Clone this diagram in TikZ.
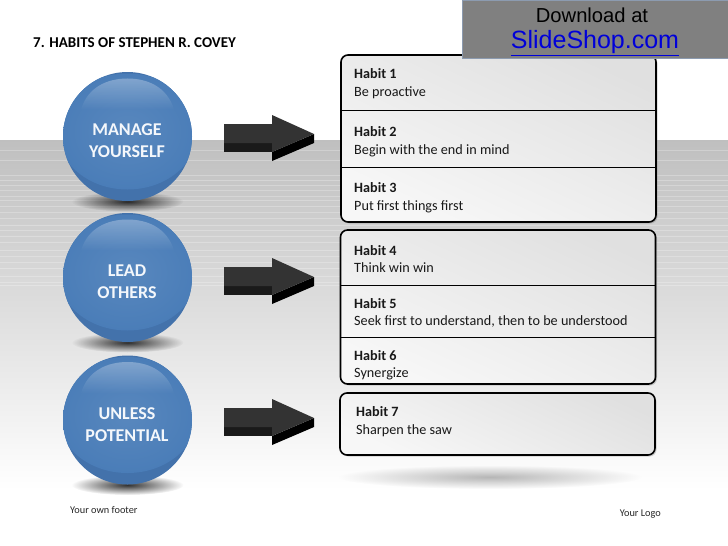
\documentclass[tikz,border=0pt]{standalone}
\usepackage{fontspec}
\setmainfont{Carlito}
\newfontfamily\bannerfont{Liberation Sans}
\usetikzlibrary{calc,positioning,shadows,fadings}
\definecolor{ballblue}{HTML}{4A7DB8}
\definecolor{ballrim}{HTML}{4372AB}
\definecolor{arrowfront}{HTML}{333333}
\definecolor{arrowside}{HTML}{1A1A1A}
\definecolor{bannergray}{HTML}{808080}
\definecolor{bannerline}{HTML}{8C9BB0}
\tikzfading[name=softshadow, inner color=transparent!0, outer color=transparent!100]
\tikzset{
    ball/.style={circle, minimum size=129pt, inner sep=0pt, outer sep=0pt, fill=ballrim},
    balltext/.style={inner sep=0pt, text=white!94!ballblue, align=center, font=\fontsize{18}{22}\selectfont\bfseries},
    softfall/.style={black, path fading=softshadow},
    habitbox/.style={draw=black, line width=1.6pt, rounded corners=7pt, minimum width=315pt, anchor=north west,
        inner sep=0pt, outer sep=0pt, top color=black!12, bottom color=black!3, shading angle=-25,
        drop shadow={shadow xshift=1.5pt, shadow yshift=-1.5pt, opacity=0.35}},
    habittext/.style={anchor=west, align=left, inner sep=0pt, text=black!90, font=\fontsize{14.2}{17.5}\selectfont},
    smalltext/.style={inner sep=0pt, text=black!85, font=\fontsize{10.3}{12}\selectfont}
}
\begin{document}
\begin{tikzpicture}[x=1pt,y=-1pt]
    \useasboundingbox (0,0) rectangle (728,546);
    % Grey floor that fades out to white
    \shade[top color=black!25, bottom color=white] (0,140) rectangle (728,490);
    \foreach \y in {150,160,175,180,185,190,196,200,206,212,218,225,230,236,242,250,256,262,268,276,282,285} {
        \draw[white, opacity=0.25, line width=0.7pt] (0,\y) -- (728,\y);
    }
    % Title
    \node[anchor=west, inner sep=0pt, font=\fontsize{15}{17}\selectfont\bfseries] (title) at (33,43) {7. HABITS OF STEPHEN R. COVEY};

    % Balls with their shadows and the arrows next to them
    \foreach \y/\a/\n/\txt in {136.5/0/1/{MANAGE\\YOURSELF},277.5/143/2/{LEAD\\OTHERS},420/284/3/{UNLESS\\POTENTIAL}} {
        \fill[softfall, opacity=0.8] (127.5,\y+65) ellipse (56pt and 10pt);
        \node[ball] (ball\n) at (127.5,\y) {};
        \begin{scope}
            \clip (127.5,\y) circle (64.5pt);
            \shade[inner color=ballblue!92!white, outer color=ballblue] (127.5,\y-5) ellipse (70pt and 58pt);
        \end{scope}
        \fill[white, opacity=0.3, path fading=south] (81,\y-27)
            .. controls (88,\y-50) and (108,\y-58) .. (127.5,\y-58)
            .. controls (147,\y-58) and (167,\y-50) .. (174,\y-27) -- cycle;
        \node[balltext] (label\n) at (127,\y+4.5) {\txt};
        % Arrow
        \begin{scope}[shift={(0,\a)}]
            \fill[arrowside] (224,143) rectangle (272,152);
            \fill[black] (314,134) -- (314,143) -- (272,161) -- (272,152) -- cycle;
            \fill[arrowfront] (224,124) -- (272,124) -- (272,115) -- (314,134) -- (272,152) -- (272,143) -- (224,143) -- cycle;
        \end{scope}
    }

    % Boxes and their dividing lines
    \node[habitbox, minimum height=167pt] (box1) at (341,55) {};
    \node[habitbox, minimum height=154pt] (box2) at (340.5,230) {};
    \node[habitbox, minimum height=62pt] (box3) at (340,393) {};
    \foreach \y in {110,167,285,337} {
        \draw[line width=0.8pt] (340,\y) -- (656,\y);
    }
    % Text of the habits
    \foreach \y/\n/\txt in {
        83.5/1/Be proactive,
        141.5/2/Begin with the end in mind,
        197.5/3/Put first things first,
        259/4/Think win win,
        313/5/{Seek first to understand, then to be understood},
        365/6/Synergize} {
        \node[habittext] (habit\n) at (354,\y) {\textbf{Habit \n}\\\txt};
    }
    \node[habittext] (habit7) at (356,421.5) {\textbf{Habit 7}\\Sharpen the saw};

    % Shadow under the last box
    \fill[softfall, opacity=0.28] (490,477) ellipse (152pt and 12pt);

    % Footer
    \node[smalltext, anchor=west] (footer) at (70,510) {Your own footer};
    \node[smalltext, anchor=east] (logo) at (661,514) {Your Logo};

    % Banner
    \node[draw=bannerline, line width=1pt, fill=bannergray, anchor=north west, minimum width=268pt, minimum height=58pt, inner sep=0pt] (banner) at (462,0) {};
    \node[inner sep=0pt, font=\bannerfont\fontsize{20.2}{24}\selectfont] (download) at (592,15) {Download at};
    \node[inner sep=0pt, text=blue!85!black, font=\bannerfont\fontsize{25}{28}\selectfont] (shop) at (595,43) {\underline{SlideShop.com}};
\end{tikzpicture}
\end{document}
